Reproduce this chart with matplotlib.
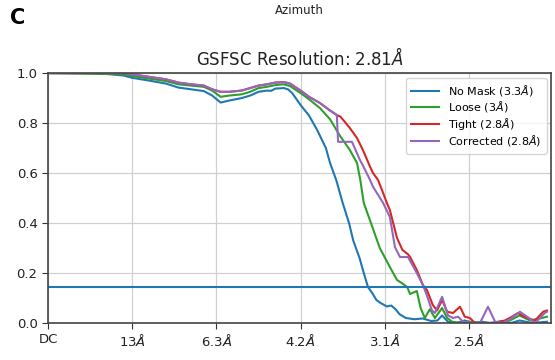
import matplotlib
matplotlib.use("Agg")
import matplotlib.pyplot as plt

# Frequency-shell index (x) and FSC values for each curve
nomask_x = [0, 12, 18, 20, 24, 28, 31, 34, 37, 39, 41, 43, 46, 48, 50, 52, 53, 54, 56, 57, 58,
            60, 62, 64, 66, 67, 68.5, 70, 71.5, 72.5, 74, 75, 76, 77, 78, 79, 80.5, 81.5, 82.5,
            83.5, 85, 87, 89, 91, 92.5, 93.6, 95, 97, 99, 101, 103, 105, 108, 110, 112, 115, 118.5]
nomask_y = [1.0, 1.0, 0.99, 0.981, 0.97, 0.958, 0.942, 0.935, 0.928, 0.91, 0.882, 0.89, 0.90,
            0.91, 0.925, 0.93, 0.929, 0.938, 0.94, 0.935, 0.92, 0.872, 0.83, 0.77, 0.70, 0.64,
            0.57, 0.48, 0.40, 0.33, 0.26, 0.20, 0.144, 0.12, 0.092, 0.08, 0.066, 0.07, 0.056,
            0.035, 0.02, 0.015, 0.018, 0.008, 0.01, 0.03, 0.005, 0.0, 0.01, 0.0, 0.005, 0.0,
            0.008, 0.0, 0.01, 0.0, 0.005]

loose_x = [0, 18, 20, 24, 28, 31, 34, 37, 39, 41, 43, 46, 48, 50, 52, 54, 56, 57.5, 60, 62,
           64.6, 67, 69.3, 71.7, 73.4, 74.2, 75, 76.5, 78.8, 81.2, 82.9, 84, 85.3, 86, 87.6,
           88.5, 89.5, 90.7, 91.9, 93.6, 94.8, 96, 98, 100, 103, 106, 109.7, 112, 114.5,
           117.3, 118.5]
loose_y = [1.0, 0.995, 0.988, 0.978, 0.968, 0.955, 0.95, 0.945, 0.93, 0.905, 0.91, 0.915,
           0.925, 0.94, 0.945, 0.952, 0.955, 0.948, 0.92, 0.895, 0.86, 0.815, 0.75, 0.692,
           0.64, 0.57, 0.48, 0.41, 0.30, 0.224, 0.172, 0.16, 0.144, 0.116, 0.128, 0.06, 0.02,
           0.055, 0.02, 0.06, 0.02, 0.005, 0.0, 0.005, 0.0, 0.0, 0.01, 0.03, 0.01, 0.02, 0.025]

tight_x = [0, 18, 20, 24, 28, 31, 34, 37, 39, 41, 43, 46, 48, 50, 52, 54, 56, 57.5, 60, 62,
           64.6, 67, 68.6, 69.5, 71.7, 73.4, 74.8, 76.5, 77.2, 78.4, 79.6, 80.5, 81.2, 82.9,
           84.2, 85.5, 86, 87.6, 89.1, 90, 91.4, 92.4, 93.6, 94.8, 96.2, 97.85, 99, 100.2,
           101.4, 104, 106, 108.5, 110.2, 111.6, 113.8, 115.7, 117.6, 118.5]
tight_y = [1.0, 1.0, 0.995, 0.985, 0.975, 0.962, 0.955, 0.95, 0.935, 0.925, 0.925, 0.93,
           0.94, 0.95, 0.955, 0.962, 0.964, 0.958, 0.93, 0.905, 0.88, 0.85, 0.832, 0.825,
           0.78, 0.74, 0.692, 0.625, 0.60, 0.572, 0.52, 0.48, 0.452, 0.34, 0.292, 0.275,
           0.264, 0.212, 0.15, 0.132, 0.072, 0.05, 0.092, 0.045, 0.04, 0.065, 0.025, 0.02,
           0.0, 0.0, 0.0, 0.01, 0.025, 0.04, 0.02, 0.01, 0.045, 0.05]

corr_x = [0, 18, 20, 24, 28, 31, 34, 37, 39, 41, 43, 46, 48, 50, 52, 54, 56, 57.5, 60, 62,
          64.6, 67, 68.6, 68.9, 72.2, 74.1, 74.8, 76.5, 77.2, 79.6, 81.2, 82.4, 83.6, 85.5,
          87.6, 89.1, 90, 91.2, 91.9, 93.6, 95, 96.2, 97.4, 98.6, 101, 102.6, 104.5, 106.2,
          108.1, 110.2, 112.1, 113.8, 115.7, 118, 118.5]
corr_y = [1.0, 1.0, 0.995, 0.985, 0.975, 0.962, 0.955, 0.95, 0.935, 0.925, 0.925, 0.93,
          0.94, 0.95, 0.955, 0.962, 0.964, 0.958, 0.93, 0.905, 0.88, 0.85, 0.832, 0.725,
          0.725, 0.652, 0.63, 0.572, 0.545, 0.48, 0.424, 0.304, 0.264, 0.264, 0.20, 0.15,
          0.11, 0.05, 0.04, 0.105, 0.03, 0.02, 0.025, 0.005, 0.0, 0.0, 0.065, 0.005, 0.0,
          0.02, 0.045, 0.025, 0.0, 0.04, 0.045]

threshold = 0.143
tick_pos = [0, 20, 40, 60, 80, 100]
tick_labels = ["DC", r"13$\AA$", r"6.3$\AA$", r"4.2$\AA$", r"3.1$\AA$", r"2.5$\AA$"]
series_labels = [r"No Mask (3.3$\AA$)", r"Loose (3$\AA$)", r"Tight (2.8$\AA$)",
                 r"Corrected (2.8$\AA$)"]
colors = ["#1f77b4", "#2ca02c", "#d62728", "#9467bd"]

fig = plt.figure(figsize=(5.55, 3.6), dpi=100)
ax = fig.add_axes([0.0865, 0.1028, 0.9065, 0.6942])

for xs, ys, lab, c in zip([nomask_x, loose_x, tight_x, corr_x],
                          [nomask_y, loose_y, tight_y, corr_y],
                          series_labels, colors):
    ax.plot(xs, ys, color=c, lw=1.5, label=lab)
ax.axhline(threshold, color=colors[0], lw=1.5)

ax.set_xlim(0, 119.5)
ax.set_ylim(0, 1.0)
ax.set_xticks(tick_pos)
ax.set_xticklabels(tick_labels, fontsize=9.5)
ax.set_yticks([0, 0.2, 0.4, 0.6, 0.8, 1.0])
ax.set_yticklabels(["0.0", "0.2", "0.4", "0.6", "0.8", "1.0"], fontsize=9.5)
ax.tick_params(axis="both", length=4, colors="#333333", labelcolor="#222222")
ax.grid(True, color="#d0d0d0", lw=0.9)
for s in ax.spines.values():
    s.set_color("#444444")
    s.set_linewidth(1.2)

ax.set_title(r"GSFSC Resolution: 2.81$\AA$", fontsize=12, pad=6, color="#222222")
leg = ax.legend(loc="upper right", fontsize=8, frameon=True, borderpad=0.5,
                handlelength=2.5, labelspacing=0.12, borderaxespad=0.4)
leg.get_frame().set_edgecolor("#cccccc")

fig.text(0.54, 0.972, "Azimuth", ha="center", va="center", fontsize=8.5, color="#222222")
fig.text(0.018, 0.95, "C", ha="left", va="center", fontsize=15, fontweight="bold")

fig.savefig("out.png", dpi=100)
